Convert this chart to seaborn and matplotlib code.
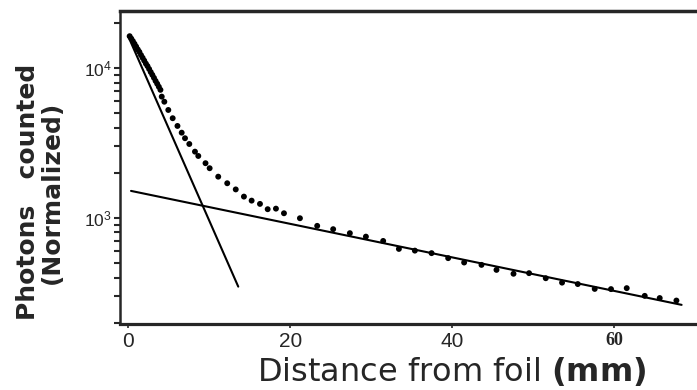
"""
Photon counts versus distance from foil, log scale, with two fitted exponentials.
"""

import matplotlib
matplotlib.use('Agg')
import matplotlib.pyplot as plt
import matplotlib.ticker as mticker
import pandas as pd
import seaborn as sns

distance_mm = [0.2, 0.4, 0.6, 0.8, 1.0, 1.2, 1.4, 1.6, 1.8, 2.0,
               2.2, 2.4, 2.6, 2.8, 3.0, 3.2, 3.4, 3.6, 3.8, 4.0,
               4.16, 4.48, 4.97, 5.51, 6.10, 6.62, 7.03, 7.56, 8.26, 8.67,
               9.56, 10.07, 11.13, 12.24, 13.29, 14.30, 15.25, 16.28, 17.23, 18.25,
               19.24, 21.21, 23.34, 25.31, 27.37, 29.35, 31.48, 33.42, 35.39, 37.45,
               39.50, 41.47, 43.61, 45.46, 47.56, 49.48, 51.54, 53.55, 55.49, 57.58,
               59.59, 61.53, 63.75, 65.60, 67.66]
photons = [16300, 15700, 15100, 14500, 13900, 13300, 12800, 12200, 11700, 11200,
           10700, 10300, 9850, 9400, 9000, 8600, 8200, 7850, 7500, 7150,
           6442, 5957, 5248, 4624, 4106, 3703, 3400, 3112, 2767, 2589,
           2317, 2145, 1884, 1703, 1549, 1387, 1304, 1240, 1143, 1153,
           1074, 995, 885, 841, 791, 750, 702, 621, 605, 582,
           539, 504, 486, 450, 424, 428, 396, 370, 362, 336,
           335, 340, 302, 292, 281]

# fitted components (end points)
fast_x = [0.04, 13.6]
fast_y = [16200, 348]
slow_x = [0.37, 68.3]
slow_y = [1514, 263]

sns.set_style('ticks')
plt.rcParams['font.family'] = ['Liberation Sans', 'DejaVu Sans']
plt.rcParams['mathtext.fontset'] = 'custom'
plt.rcParams['mathtext.rm'] = 'DejaVu Sans'
plt.rcParams['mathtext.bf'] = 'DejaVu Sans:bold'

fig = plt.figure(figsize=(6.97, 3.90), dpi=100)
ax = fig.add_axes([120 / 697, 66 / 390, 577 / 697, 313 / 390])

pts = pd.DataFrame({'mm': distance_mm, 'counts': photons})
sns.scatterplot(data=pts, x='mm', y='counts', color='black', s=18,
                edgecolor='none', ax=ax, zorder=3)
sns.lineplot(x=fast_x, y=fast_y, color='black', linewidth=1.5, ax=ax)
sns.lineplot(x=slow_x, y=slow_y, color='black', linewidth=1.5, ax=ax)

ax.set_yscale('log')
ax.set_xlim(-0.99, 70.2)
ax.set_ylim(196, 24000)

ax.set_yticks([1000, 10000],
              labels=[r'$\mathdefault{10^{3}}$', r'$\mathdefault{10^{4}}$'])
ax.yaxis.set_minor_locator(mticker.LogLocator(base=10, subs=range(2, 10)))
ax.yaxis.set_minor_formatter(mticker.NullFormatter())
ax.tick_params(axis='y', which='both', direction='out', length=4, width=1.5,
               labelsize=12.5, pad=2)

ax.set_xticks([0, 20, 40, 60])
ax.set_xticklabels(['0', '20', '40', '60'])
ax.tick_params(axis='x', direction='out', length=3, width=1.2,
               labelsize=15, pad=3)
lab60 = ax.get_xticklabels()[3]
lab60.set_family('Liberation Serif')
lab60.set_weight('bold')
lab60.set_fontsize(13)

ax.spines['right'].set_visible(False)
ax.spines['top'].set_linewidth(2.5)
ax.spines['bottom'].set_linewidth(2.3)
ax.spines['left'].set_linewidth(1.8)

ax.set_xlabel('')
ax.set_ylabel('')
fig.text(452 / 697, 1 - 372 / 390, r'Distance from foil $\mathbf{(mm)}$',
         ha='center', va='center', fontsize=23, family='DejaVu Sans')
fig.text(40 / 697, 1 - 192 / 390, 'Photons   counted\n(Normalized)', rotation=90,
         ha='center', va='center', ma='center', fontsize=18,
         fontweight='bold', family='DejaVu Sans', linespacing=1.0)

plt.savefig('out.png', dpi=100)
